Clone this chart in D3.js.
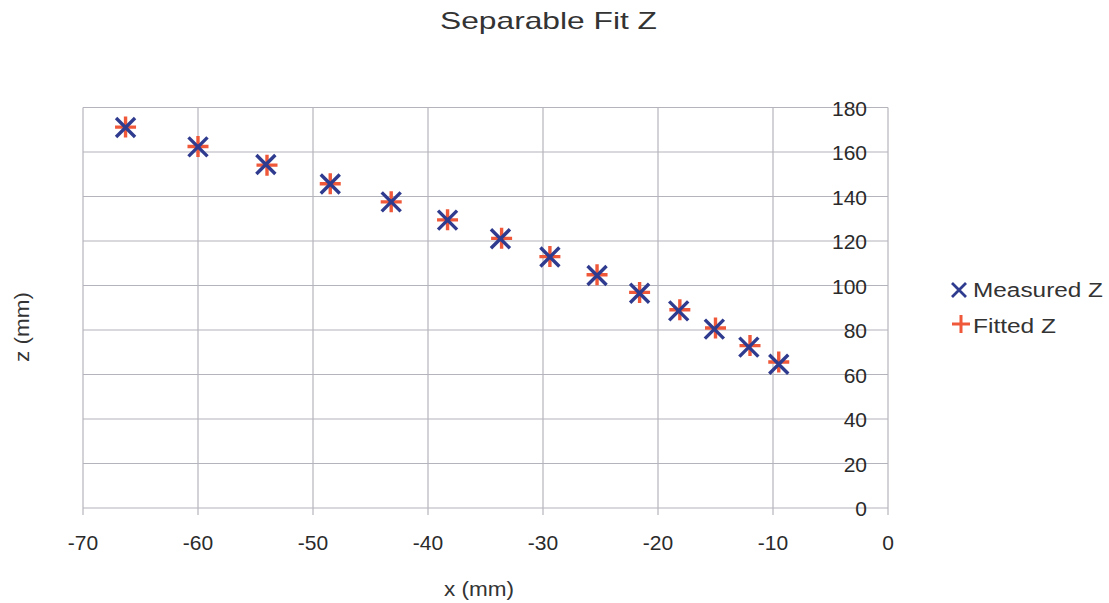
<!DOCTYPE html>
<html>
<head>
<meta charset="utf-8">
<script src="https://cdn.jsdelivr.net/npm/d3@7"></script>
<style>
  html, body { margin: 0; padding: 0; background: #fff; }
  svg { display: block; }
</style>
</head>
<body>
<svg id="chart" width="1109" height="603"></svg>
<script>
const measuredX = [-66.3, -60.0, -54.1, -48.5, -43.2, -38.3, -33.7, -29.4, -25.3, -21.6, -18.2, -15.1, -12.1, -9.5];
const measuredZ = [171.0, 162.3, 154.4, 145.6, 137.6, 129.4, 121.0, 112.8, 104.5, 96.5, 88.6, 80.4, 72.3, 64.6];
const fittedX   = [-66.3, -60.0, -54.0, -48.5, -43.2, -38.3, -33.6, -29.4, -25.3, -21.6, -18.1, -15.0, -12.0, -9.5];
const fittedZ   = [171.2, 162.5, 154.1, 145.7, 137.6, 129.5, 121.2, 113.0, 104.8, 96.9, 89.1, 80.9, 73.0, 65.6];
const xTicks = [-70, -60, -50, -40, -30, -20, -10, 0];
const yTicks = [0, 20, 40, 60, 80, 100, 120, 140, 160, 180];
const seriesNames = ["Measured Z", "Fitted Z"];

const svg = d3.select("#chart");
const font = "'Liberation Sans', Arial, sans-serif";
const blue = "#2f3b8e";
const red = "#f0583a";
const grid = "#b4b4bc";
const textCol = "#2a2a2a";

const x = d3.scaleLinear().domain([-70, 0]).range([83, 888]);
const y = d3.scaleLinear().domain([0, 180]).range([508, 107.5]);

// gridlines
const g = svg.append("g");
g.selectAll(".vg").data(xTicks).enter().append("line")
  .attr("x1", d => x(d)).attr("x2", d => x(d))
  .attr("y1", y(180)).attr("y2", y(0) + 7)
  .attr("stroke", grid).attr("stroke-width", 1.2);
g.selectAll(".hg").data(yTicks).enter().append("line")
  .attr("x1", x(-70)).attr("x2", x(0))
  .attr("y1", d => y(d)).attr("y2", d => y(d))
  .attr("stroke", grid).attr("stroke-width", 1.2);

// x axis labels
g.selectAll(".xl").data(xTicks).enter().append("text")
  .attr("x", d => x(d)).attr("y", 550)
  .attr("text-anchor", "middle")
  .attr("font-family", font).attr("font-size", 21).attr("fill", textCol)
  .text(d => d);

// y axis labels (drawn next to the axis at x = 0)
g.selectAll(".yl").data(yTicks).enter().append("text")
  .attr("x", x(0) - 21).attr("y", d => y(d) + 8)
  .attr("text-anchor", "end")
  .attr("font-family", font).attr("font-size", 21).attr("fill", textCol)
  .text(d => d);

// markers
function crossPath(cx, cy, r) {
  return `M${cx - r},${cy - r}L${cx + r},${cy + r}M${cx - r},${cy + r}L${cx + r},${cy - r}`;
}
function plusPath(cx, cy, r) {
  return `M${cx - r},${cy}L${cx + r},${cy}M${cx},${cy - r}L${cx},${cy + r}`;
}

const fitted = fittedX.map((v, i) => ({ x: v, z: fittedZ[i] }));
const measured = measuredX.map((v, i) => ({ x: v, z: measuredZ[i] }));

svg.append("g").selectAll("path").data(fitted).enter().append("path")
  .attr("d", d => plusPath(x(d.x), y(d.z), 10.5))
  .attr("stroke", red).attr("stroke-width", 3.4).attr("fill", "none");

svg.append("g").selectAll("path").data(measured).enter().append("path")
  .attr("d", d => crossPath(x(d.x), y(d.z), 9.5))
  .attr("stroke", blue).attr("stroke-width", 3.4).attr("fill", "none");

// title
svg.append("text").attr("x", 548.5).attr("y", 29)
  .attr("text-anchor", "middle").attr("font-family", font)
  .attr("font-size", 24).attr("fill", "#333")
  .attr("textLength", 217).attr("lengthAdjust", "spacingAndGlyphs")
  .text("Separable Fit Z");

// axis titles
svg.append("text").attr("x", 479).attr("y", 596)
  .attr("text-anchor", "middle").attr("font-family", font)
  .attr("font-size", 20).attr("fill", "#333")
  .attr("textLength", 70).attr("lengthAdjust", "spacingAndGlyphs")
  .text("x (mm)");
svg.append("text").attr("transform", "translate(29,327) rotate(-90)")
  .attr("text-anchor", "middle").attr("font-family", font)
  .attr("font-size", 20).attr("fill", "#333")
  .attr("textLength", 70).attr("lengthAdjust", "spacingAndGlyphs")
  .text("z (mm)");

// legend
const leg = svg.append("g");
const legY = [290, 322];
const legLen = [130, 83];
leg.append("path").attr("d", crossPath(959, legY[0], 7))
  .attr("stroke", blue).attr("stroke-width", 2.8).attr("fill", "none");
leg.append("path").attr("d", plusPath(961, legY[1] + 2, 9))
  .attr("stroke", red).attr("stroke-width", 3).attr("fill", "none");
leg.selectAll("text").data(seriesNames).enter().append("text")
  .attr("x", 973).attr("y", (d, i) => [297, 333][i])
  .attr("font-family", font).attr("font-size", 20).attr("fill", "#333")
  .attr("textLength", (d, i) => legLen[i]).attr("lengthAdjust", "spacingAndGlyphs")
  .text(d => d);
</script>
</body>
</html>
